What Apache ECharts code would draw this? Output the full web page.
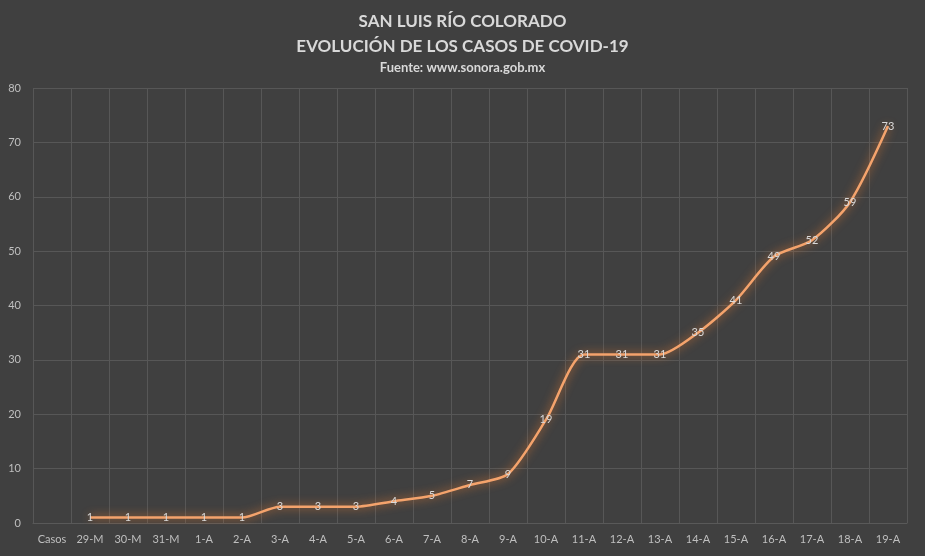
<!DOCTYPE html>
<html>
<head>
<meta charset="utf-8">
<script src="https://cdn.jsdelivr.net/npm/echarts@6/dist/echarts.min.js"></script>
<style>
html,body{margin:0;padding:0;background:#404040;}
#c{width:925px;height:556px;}
</style>
</head>
<body>
<div id="c"></div>
<script>
var categories = ['Casos','29-M','30-M','31-M','1-A','2-A','3-A','4-A','5-A','6-A','7-A','8-A','9-A','10-A','11-A','12-A','13-A','14-A','15-A','16-A','17-A','18-A','19-A'];
var casos = ['-',1,1,1,1,1,3,3,3,4,5,7,9,19,31,31,31,35,41,49,52,59,73];
var yTicks = {min:0, max:80, interval:10};
var titleText = 'SAN LUIS RÍO COLORADO\nEVOLUCIÓN DE LOS CASOS DE COVID-19';
var subText = 'Fuente: www.sonora.gob.mx';

var chart = echarts.init(document.getElementById('c'));
chart.setOption({
  backgroundColor:'#404040',
  animation:false,
  title:{
    text:titleText,
    subtext:subText,
    left:'center',
    top:4,
    itemGap:2,
    textStyle:{color:'#d9d9d9',fontSize:17,fontWeight:'bold',fontFamily:'Lato',lineHeight:25},
    subtextStyle:{color:'#d9d9d9',fontSize:13,fontWeight:'bold',fontFamily:'Lato'}
  },
  grid:{left:33,right:18,top:88,bottom:33,containLabel:false},
  xAxis:{
    type:'category',
    data:categories,
    boundaryGap:true,
    axisLine:{show:true,lineStyle:{color:'#595959'}},
    axisTick:{show:false},
    splitLine:{show:true,lineStyle:{color:'#575757',width:1}},
    axisLabel:{color:'#bfbfbf',fontSize:11,fontFamily:'Lato',margin:11,interval:0}
  },
  yAxis:{
    type:'value',
    min:yTicks.min,max:yTicks.max,interval:yTicks.interval,
    axisLine:{show:false},
    axisTick:{show:false},
    splitLine:{lineStyle:{color:'#575757',width:1}},
    axisLabel:{color:'#bfbfbf',fontSize:11,fontFamily:'Lato',margin:12}
  },
  series:[{
    type:'line',
    data:casos,
    smooth:0.25,
    symbol:'circle',
    symbolSize:2,
    showSymbol:true,
    showAllSymbol:true,
    itemStyle:{color:'rgba(0,0,0,0)',borderWidth:0},
    lineStyle:{color:'#f4a36c',width:2.5,shadowColor:'rgba(237,125,49,0.9)',shadowBlur:10},
    label:{show:true,position:'inside',color:'#d9d9d9',fontSize:11,fontFamily:'Lato'}
  }]
});
</script>
</body>
</html>
